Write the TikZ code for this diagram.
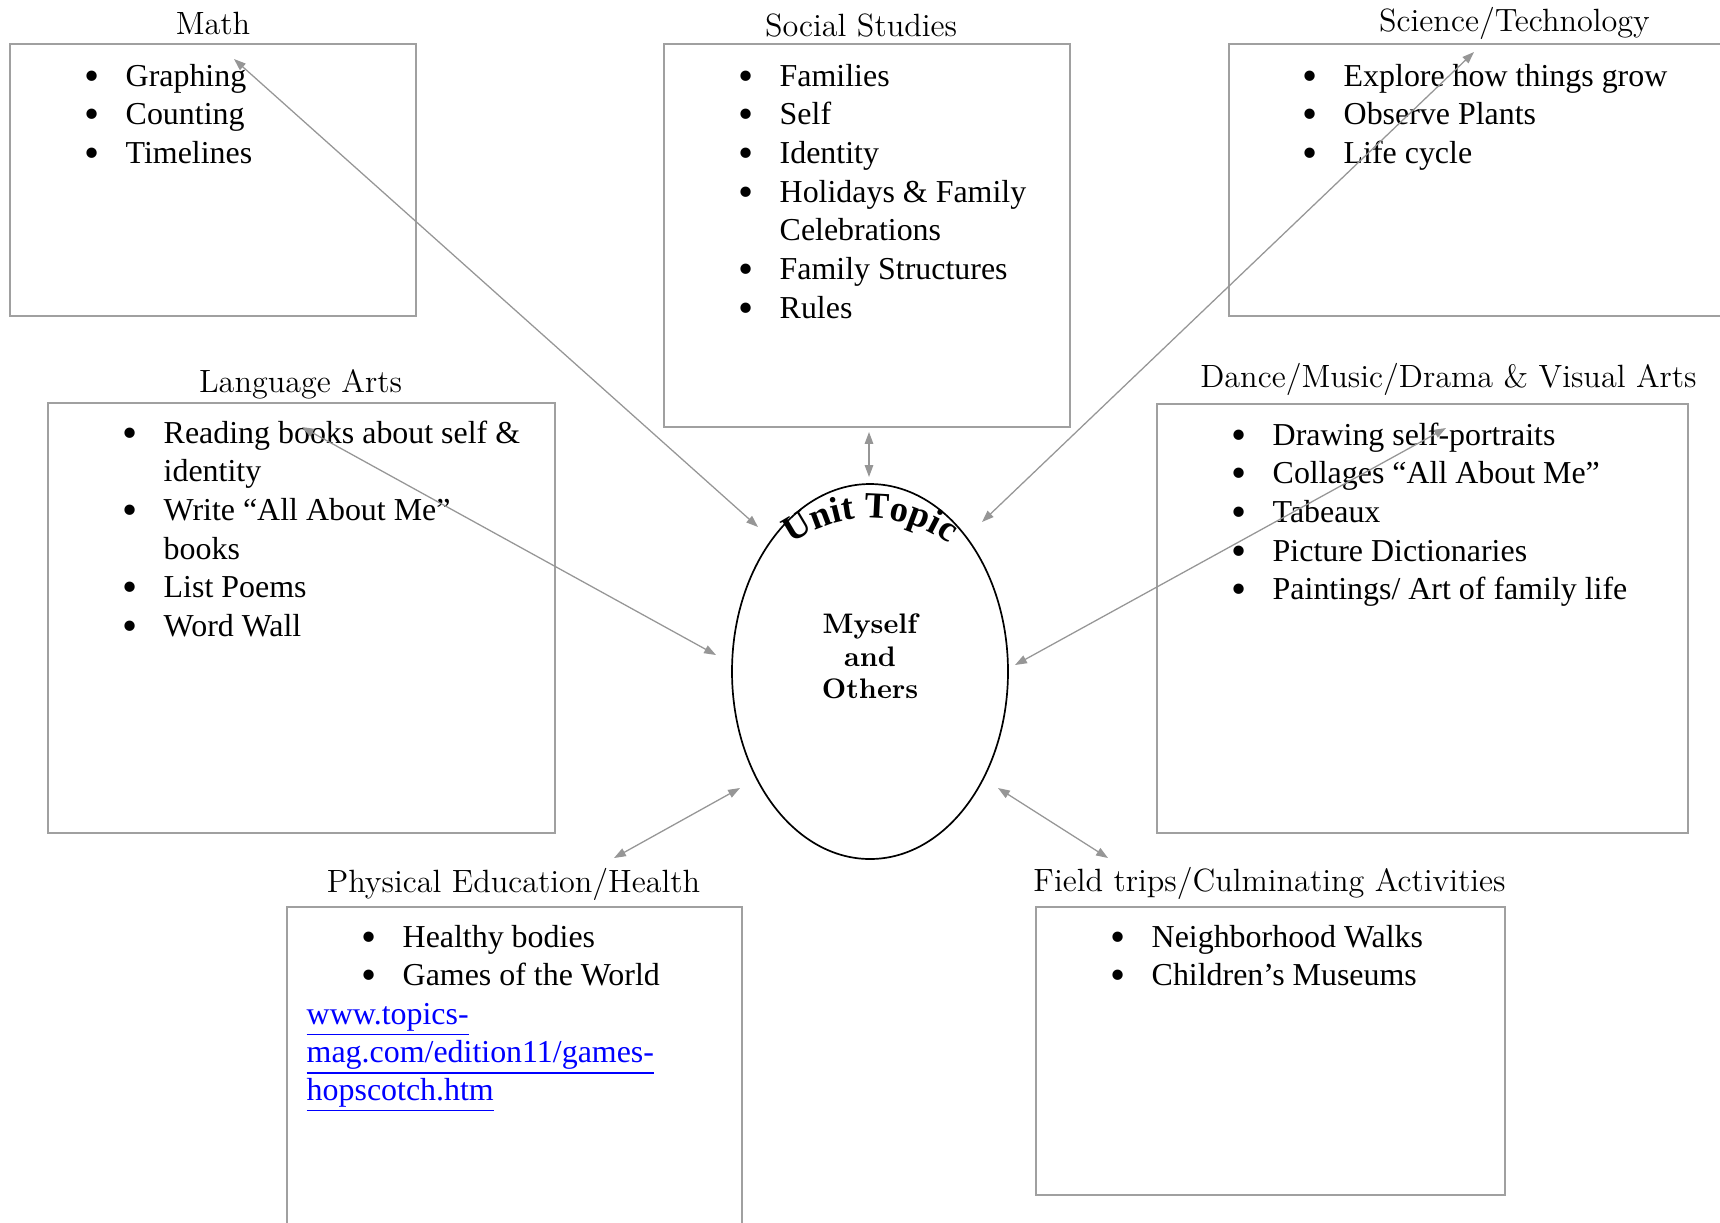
\documentclass[tikz,border=0pt]{standalone}
\usepackage{fontspec}
\setmainfont{Liberation Serif}
\newfontfamily\headfont{Latin Modern Roman}
\usetikzlibrary{arrows.meta, fit, shapes.geometric, decorations.text}
\newlength\upx
\setlength\upx{0.354pt}
\definecolor{boxgray}{RGB}{160,160,160}
\definecolor{spokegray}{RGB}{150,150,150}
\definecolor{urlblue}{RGB}{0,0,255}
\newcommand\topicfmt{\bfseries\fontsize{13}{15}\selectfont}
\newcommand\itemsfont{\fontsize{11.3}{13.7}\selectfont}
\newcommand\bul{\raisebox{-1.4pt}{\scalebox{1.35}{\textbullet}}}

\tikzset{
    subject/.style={draw=boxgray, line width=0.6pt, inner sep=0pt},
    heading/.style={font=\headfont\fontsize{11.4}{13}\selectfont, anchor=base, inner sep=0pt},
    items/.style={font=\itemsfont, anchor=base west, inner sep=0pt},
    spoke/.style={draw=spokegray, line width=0.45pt, {Triangle[length=4.2pt,width=3pt]}-{Triangle[length=4.2pt,width=3pt]}},
    hub/.style={ellipse, draw, line width=0.6pt, inner sep=0pt, minimum width=276*\upx, minimum height=375*\upx}
}

\begin{document}
\begin{tikzpicture}[x=\upx, y=-\upx]
    \useasboundingbox (0,0) rectangle (1720,1222);
    \clip (0,0) rectangle (1720,1222);

    \node[subject, fit={(10,44) (416,316)}] (math) {};
    \node[subject, fit={(664,44) (1070,427)}] (social) {};
    \node[subject, fit={(1229,44) (1800,316)}] (science) {};
    \node[subject, fit={(48,403) (555,833)}] (lang) {};
    \node[subject, fit={(1157,404) (1688,833)}] (dance) {};
    \node[subject, fit={(287,907) (742,1240)}] (pe) {};
    \node[subject, fit={(1036,907) (1505,1195)}] (field) {};

    \node[heading] (mathT) at ([shift={(0,-9)}]math.north) {Math};
    \node[heading] (socialT) at ([shift={(-6,-7)}]social.north) {Social Studies};
    \node[heading] (scienceT) at ([shift={(0,-12)}]science.north) {Science/Technology};
    \node[heading] (langT) at ([shift={(-1,-10)}]lang.north) {Language Arts};
    \node[heading] (danceT) at ([shift={(26,-16)}]dance.north) {Dance/Music/Drama \& Visual Arts};
    \node[heading] (peT) at ([shift={(-1,-14)}]pe.north) {Physical Education/Health};
    \node[heading] (fieldT) at ([shift={(-1,-15)}]field.north) {Field trips/Culminating Activities};

    \node[items] (mathL) at ([shift={(75,43)}]math.north west) {%
        \begin{tabular}[t]{@{}p{41\upx}@{}l@{}}
            \bul & Graphing\\
            \bul & Counting\\
            \bul & Timelines
        \end{tabular}};
    \node[items] (socialL) at ([shift={(75,43)}]social.north west) {%
        \begin{tabular}[t]{@{}p{41\upx}@{}l@{}}
            \bul & Families\\
            \bul & Self\\
            \bul & Identity\\
            \bul & Holidays \& Family\\
                 & Celebrations\\
            \bul & Family Structures\\
            \bul & Rules
        \end{tabular}};
    \node[items] (scienceL) at ([shift={(74,43)}]science.north west) {%
        \begin{tabular}[t]{@{}p{41\upx}@{}l@{}}
            \bul & Explore how things grow\\
            \bul & Observe Plants\\
            \bul & Life cycle
        \end{tabular}};
    \node[items] (langL) at ([shift={(75,41)}]lang.north west) {%
        \begin{tabular}[t]{@{}p{41\upx}@{}l@{}}
            \bul & Reading books about self \&\\
                 & identity\\
            \bul & Write “All About Me”\\
                 & books\\
            \bul & List Poems\\
            \bul & Word Wall
        \end{tabular}};
    \node[items] (danceL) at ([shift={(75,42)}]dance.north west) {%
        \begin{tabular}[t]{@{}p{41\upx}@{}l@{}}
            \bul & Drawing self-portraits\\
            \bul & Collages “All About Me”\\
            \bul & Tabeaux\\
            \bul & Picture Dictionaries\\
            \bul & Paintings/ Art of family life
        \end{tabular}};
    \node[items] (peL) at ([shift={(75,41)}]pe.north west) {%
        \begin{tabular}[t]{@{}p{41\upx}@{}l@{}}
            \bul & Healthy bodies\\
            \bul & Games of the World
        \end{tabular}};
    \node[items, font=\fontsize{11.3}{12.9}\selectfont, text=urlblue] (peURL) at ([shift={(20,118)}]pe.north west) {%
        \begin{tabular}[t]{@{}l@{}}
            \underline{www.topics-}\\
            \underline{mag.com/edition11/games-}\\
            \underline{hopscotch.htm}
        \end{tabular}};
    \node[items] (fieldL) at ([shift={(75,41)}]field.north west) {%
        \begin{tabular}[t]{@{}p{41\upx}@{}l@{}}
            \bul & Neighborhood Walks\\
            \bul & Children’s Museums
        \end{tabular}};

    \node[hub] (topic) at (870,671.5) {};
    \coordinate (arcL) at (781.7,551.9);
    \path[decorate, decoration={text along path, text={|\topicfmt|Unit Topic}, text align=center}]
        (arcL) arc[start angle=-132, end angle=-48, radius=132];
    \node[font=\headfont\bfseries\fontsize{10}{11.5}\selectfont, align=center] (theme)
        at ([shift={(0,-15)}]topic.center) {Myself\\and\\Others};

    \coordinate (mathP) at (234,59);
    \coordinate (socialP) at (869,432);
    \coordinate (scienceP) at (1474,52);
    \coordinate (langP) at (302,427);
    \coordinate (danceP) at (1446,428);
    \coordinate (peP) at (614,858);
    \coordinate (fieldP) at (1108,858);
    \coordinate (topicM) at (758,527);
    \coordinate (topicS) at (869,477);
    \coordinate (topicT) at (982,522);
    \coordinate (topicL) at (716,655);
    \coordinate (topicD) at (1015,665);
    \coordinate (topicP) at (740,788);
    \coordinate (topicF) at (998,788);

    \draw[spoke] (mathP) -- (topicM);
    \draw[spoke] (socialP) -- (topicS);
    \draw[spoke] (scienceP) -- (topicT);
    \draw[spoke] (langP) -- (topicL);
    \draw[spoke] (danceP) -- (topicD);
    \draw[spoke] (peP) -- (topicP);
    \draw[spoke] (fieldP) -- (topicF);
\end{tikzpicture}
\end{document}
